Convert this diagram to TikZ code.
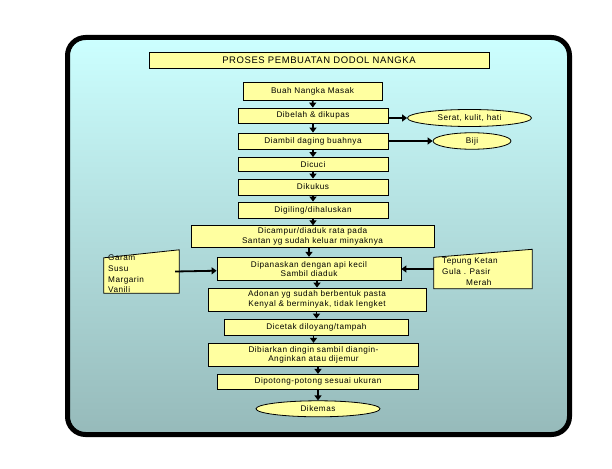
\documentclass[tikz,border=0pt]{standalone}
\usepackage{fontspec}
\setmainfont{Liberation Sans}[LetterSpace=6]
\usetikzlibrary{arrows.meta,shapes.geometric}
\definecolor{boxyellow}{RGB}{255,255,160}
\definecolor{bgtop}{RGB}{204,255,255}
\definecolor{bgbottom}{RGB}{150,186,186}
\begin{document}
\begin{tikzpicture}[x=1pt,y=-1pt]
			\tikzstyle{every node}+=[inner sep=0pt, font=\fontsize{8.2}{9.6}\selectfont]
			\tikzstyle{proc}=[draw=black, fill=boxyellow, line width=0.8pt, align=center]
			\tikzstyle{term}=[proc, ellipse]
			\tikzstyle{flow}=[black, line width=1.8pt, -{Triangle[width=7pt,length=5pt]}]
			\tikzstyle{inbox}=[draw=black, fill=boxyellow, line width=0.8pt]
			\useasboundingbox (0,0) rectangle (612,468);
			\draw [black, line width=5pt, rounded corners=18pt, top color=bgtop, bottom color=bgbottom] (67.5,37.5) rectangle (569.5,434.5);
			\node [proc, minimum width=340pt, minimum height=16pt, font=\fontsize{9.5}{11}\selectfont] (title) at (319,60.3) {PROSES PEMBUATAN DODOL NANGKA};
			\node [proc, minimum width=139pt, minimum height=18pt] (buah) at (312.5,91.5) {Buah Nangka Masak};
			\node [proc, minimum width=150pt, minimum height=15pt] (belah) at (313,115.5) {Dibelah \& dikupas};
			\node [proc, minimum width=150pt, minimum height=16pt] (ambil) at (313,141) {Diambil daging buahnya};
			\node [proc, minimum width=150pt, minimum height=14pt] (cuci) at (313,164.5) {Dicuci};
			\node [proc, minimum width=150pt, minimum height=16pt] (kukus) at (313,187) {Dikukus};
			\node [proc, minimum width=150pt, minimum height=16pt] (giling) at (313,210) {Digiling/dihaluskan};
			\node [proc, minimum width=243pt, minimum height=21.5pt] (campur) at (312.5,236.5) {Dicampur/diaduk rata pada\\Santan yg sudah keluar minyaknya};
			\node [proc, minimum width=184pt, minimum height=23.5pt] (panas) at (309,269) {Dipanaskan dengan api kecil\\Sambil diaduk};
			\node [proc, minimum width=218pt, minimum height=23pt] (adonan) at (317,299.5) {Adonan yg sudah berbentuk pasta\\Kenyal \& berminyak, tidak lengket};
			\node [proc, minimum width=184pt, minimum height=16pt] (cetak) at (316.5,327) {Dicetak diloyang/tampah};
			\node [proc, minimum width=210pt, minimum height=23.5pt] (biar) at (313.5,355) {Dibiarkan dingin sambil diangin-\\Anginkan atau dijemur};
			\node [proc, minimum width=201pt, minimum height=15pt] (potong) at (318,381.8) {Dipotong-potong sesuai ukuran};
			\node [term, minimum width=124pt, minimum height=16pt] (kemas) at (318,408.8) {Dikemas};
			\node [term, minimum width=124pt, minimum height=17pt] (serat) at (469.5,118) {Serat, kulit, hati};
			\node [term, minimum width=78pt, minimum height=16.5pt] (biji) at (472,141) {Biji};
			\node [minimum width=75pt, minimum height=43pt] (garam) at (141.5,271.5) {};
			\draw [inbox] (garam.south west) -- (garam.south east) -- (garam.north east) -- ([yshift=-8pt]garam.north west) -- cycle;
			\node [anchor=north west, align=left, font=\fontsize{8.2}{10.6}\selectfont] at (108,255) {Garam\\Susu\\Margarin\\Vanili};
			\node [minimum width=98pt, minimum height=39pt] (tepung) at (483,269) {};
			\draw [inbox] (tepung.south west) -- (tepung.south east) -- (tepung.north east) -- ([yshift=-8pt]tepung.north west) -- cycle;
			\node [anchor=north west, align=left, font=\fontsize{8.2}{10.6}\selectfont] at (442,258) {Tepung Ketan\\Gula . Pasir\\\hspace*{24pt}Merah};
			\draw [flow] (buah) -- (belah);
			\draw [flow] (belah) -- (ambil);
			\draw [flow] (ambil) -- (cuci);
			\draw [flow] (cuci) -- (kukus);
			\draw [flow] (kukus) -- (giling);
			\draw [flow] (giling) -- (giling |- campur.north);
			\draw [flow] (campur.south -| panas) -- (panas);
			\draw [flow] (panas.south -| adonan) -- (adonan);
			\draw [flow] (adonan.south -| cetak) -- (cetak);
			\draw [flow] (cetak.south -| biar) -- (biar);
			\draw [flow] (biar.south -| potong) -- (potong);
			\draw [flow] (potong) -- (kemas);
			\draw [flow] (belah.east |- serat) -- (serat);
			\draw [flow] (ambil) -- (biji);
			\draw [flow] ([xshift=-4pt]garam.east) -- (panas);
			\draw [flow] (tepung) -- (panas);
			\end{tikzpicture}
\end{document}
